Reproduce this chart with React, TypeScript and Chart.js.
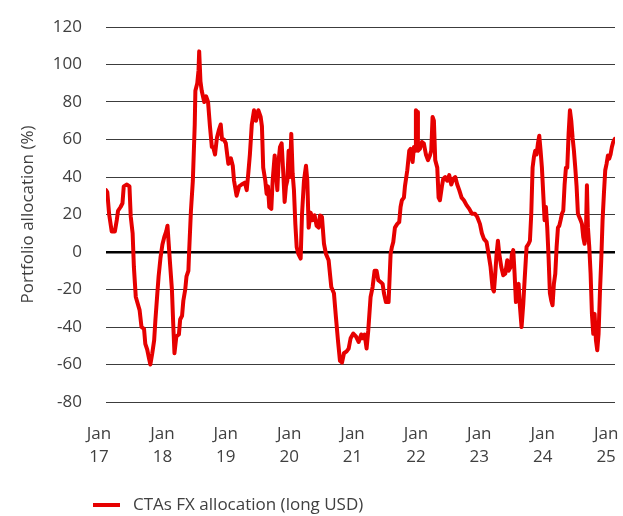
import React, { useEffect, useRef } from 'react';
import { Chart, registerables } from 'chart.js';

Chart.register(...registerables);

// Dates as decimal years
const dates = [
  2017.00, 2017.02, 2017.05, 2017.09, 2017.14, 2017.17, 2017.19, 2017.23, 2017.26, 2017.28,
  2017.33, 2017.37, 2017.39, 2017.42, 2017.44, 2017.47, 2017.53, 2017.56, 2017.60, 2017.62,
  2017.65, 2017.68, 2017.70, 2017.73, 2017.76, 2017.78, 2017.81, 2017.83, 2017.86, 2017.89,
  2017.92, 2017.95, 2017.97, 2017.99, 2018.01, 2018.04, 2018.06, 2018.08, 2018.11, 2018.15,
  2018.17, 2018.20, 2018.22, 2018.25, 2018.27, 2018.30, 2018.31, 2018.34, 2018.37, 2018.40,
  2018.41, 2018.44, 2018.46, 2018.47, 2018.49, 2018.51, 2018.55, 2018.58, 2018.61, 2018.64,
  2018.67, 2018.69, 2018.72, 2018.75, 2018.78, 2018.81, 2018.83, 2018.86, 2018.89, 2018.93,
  2018.97, 2019.00, 2019.02, 2019.06, 2019.10, 2019.14, 2019.19, 2019.22, 2019.245, 2019.27,
  2019.30, 2019.335, 2019.366, 2019.403, 2019.44, 2019.46, 2019.48, 2019.513, 2019.534, 2019.555,
  2019.576, 2019.608, 2019.629, 2019.661, 2019.682, 2019.703, 2019.724, 2019.745, 2019.771, 2019.797,
  2019.818, 2019.839, 2019.86, 2019.881, 2019.902, 2019.923, 2019.944, 2019.965, 2019.987, 2020.008,
  2020.034, 2020.071, 2020.092, 2020.123, 2020.155, 2020.176, 2020.197, 2020.228, 2020.26, 2020.291,
  2020.323, 2020.355, 2020.376, 2020.407, 2020.439, 2020.47, 2020.512, 2020.554, 2020.596, 2020.628,
  2020.659, 2020.691, 2020.723, 2020.754, 2020.796, 2020.828, 2020.859, 2020.901, 2020.943, 2020.985,
  2021.027, 2021.048, 2021.08, 2021.111, 2021.137, 2021.174, 2021.206, 2021.237, 2021.269, 2021.295,
  2021.332, 2021.364, 2021.385, 2021.416, 2021.458, 2021.49, 2021.511, 2021.532, 2021.558, 2021.595,
  2021.626, 2021.647, 2021.668, 2021.70, 2021.716, 2021.753, 2021.784, 2021.805, 2021.837, 2021.858,
  2021.879, 2021.889, 2021.91, 2021.921, 2021.952, 2021.984, 2022.015, 2022.047, 2022.079, 2022.11,
  2022.131, 2022.152, 2022.173, 2022.194, 2022.226, 2022.247, 2022.268, 2022.299, 2022.32, 2022.352,
  2022.383, 2022.415, 2022.447, 2022.478, 2022.51, 2022.541, 2022.573, 2022.61, 2022.646, 2022.688,
  2022.731, 2022.773, 2022.82, 2022.857, 2022.899, 2022.93, 2022.962, 2023.004, 2023.035, 2023.067,
  2023.099, 2023.12, 2023.141, 2023.162, 2023.183, 2023.204, 2023.236, 2023.267, 2023.299, 2023.33,
  2023.351, 2023.383, 2023.404, 2023.425, 2023.446, 2023.467, 2023.488, 2023.509, 2023.53, 2023.556,
  2023.583, 2023.604, 2023.635, 2023.667, 2023.688, 2023.709, 2023.73, 2023.751, 2023.772, 2023.793,
  2023.814, 2023.835, 2023.856, 2023.877, 2023.898, 2023.919, 2023.94, 2023.961, 2023.982, 2024.003,
  2024.024, 2024.045, 2024.066, 2024.088, 2024.109, 2024.13, 2024.151, 2024.172, 2024.193, 2024.214,
  2024.235, 2024.256, 2024.277, 2024.298, 2024.319, 2024.34, 2024.361, 2024.382, 2024.403, 2024.424,
  2024.445, 2024.466, 2024.487, 2024.508, 2024.529, 2024.55, 2024.571, 2024.587, 2024.603, 2024.624,
  2024.645, 2024.666, 2024.687, 2024.708, 2024.729, 2024.75, 2024.771, 2024.792, 2024.813, 2024.834,
  2024.855, 2024.876, 2024.897, 2024.918, 2024.939, 2024.96, 2024.981, 2025.002, 2025.029,
];

// CTAs FX allocation (long USD), % of portfolio
const allocation = [
  33, 32, 20, 11, 11, 17, 22, 24, 26, 35,
  36, 35, 19, 10, -8, -24, -31, -40, -41, -49,
  -52, -57, -60, -54, -47, -36, -22, -13, -3, 4,
  8, 11, 14, 4, -6, -20, -38, -54, -45, -44,
  -36, -34, -26, -20, -13, -10, -1, 22, 38, 68,
  86, 90, 97, 107, 91, 86, 80, 83, 80, 67,
  56, 56, 52, 61, 65, 68, 60, 60, 58, 47,
  50, 46, 38, 30, 35, 36, 37, 33, 42, 52,
  68, 75.6, 70, 75.6, 72, 67, 45, 38, 31, 35,
  24, 23, 38, 51.5, 42, 33, 49, 56, 58, 42,
  26.7, 35, 38, 54, 40, 63, 42, 33, 15, 2.7,
  -1, -3.5, 20, 38, 46, 38, 13, 21, 17, 19.5,
  14, 13, 19.5, 18.7, 4.4, -1, -4.4, -18.7, -22, -35,
  -47, -58, -59, -54, -53, -51.5, -46, -43.5, -45, -48,
  -44, -46, -44, -51.5, -42, -24, -18.7, -10, -10, -15,
  -16, -17, -22, -26.7, -26.7, -1, 2.7, 5.3, 13, 15,
  16, 24, 27.6, 29, 35, 43.6, 54, 55, 48, 56,
  54, 75.6, 74.7, 54, 55, 58.7, 57.8, 52, 49, 51.5,
  54, 72, 70, 49, 45, 29, 27.6, 35, 39, 40,
  38, 41, 36, 39, 40, 36, 33, 29, 27.6, 25,
  23, 20.4, 20.4, 18.7, 15, 10, 7, 5.3, -1, -8,
  -19.5, -21, -11.6, -1, 6, -1, -8, -12.4, -11.6, -4.4,
  -10, -8, -1, 1, -11.6, -26.7, -17.8, -17, -29, -40,
  -27.6, -15, 2.7, 4.4, 6, 20.4, 45, 50.7, 54, 52,
  57.8, 62, 54, 45, 31, 17, 24, 13, -2.7, -22,
  -25.8, -28.4, -17, -11.6, 2.7, 13, 14, 17, 20.4, 22,
  36, 45, 45, 63, 75.6, 70, 61, 54, 45, 35,
  20.4, 18.7, 17, 15, 8, 4.4, 9.8, 35.6, 13, 2.7,
  -11.6, -33, -43.6, -33, -47, -52.4, -43.6, -22, -4.4, 17,
  31, 43.6, 47, 51.5, 49.8, 52, 56, 58.7, 60.4,
];

const yearTicks = [2017, 2018, 2019, 2020, 2021, 2022, 2023, 2024, 2025];
const yearLabels = ['17', '18', '19', '20', '21', '22', '23', '24', '25'];
const monthLabel = 'Jan';
const seriesLabel = 'CTAs FX allocation (long USD)';
const yAxisTitle = 'Portfolio allocation (%)';

const RED = '#e60000';
const TEXT = '#404040';
const GRID = '#3c3c3c';
const FONT = '"Open Sans", "Noto Sans", sans-serif';

export default function App() {
  const ref = useRef<HTMLCanvasElement>(null);

  useEffect(() => {
    if (!ref.current) return;
    const legendPlugin = {
      id: 'customLegend',
      afterDraw(chart: any) {
        const ctx = chart.ctx;
        ctx.save();
        ctx.strokeStyle = RED;
        ctx.lineWidth = 4;
        ctx.beginPath();
        ctx.moveTo(93, 505);
        ctx.lineTo(120, 505);
        ctx.stroke();
        ctx.fillStyle = TEXT;
        ctx.font = `17px ${FONT}`;
        ctx.textBaseline = 'middle';
        ctx.textAlign = 'left';
        ctx.fillText(seriesLabel, 133, 505);
        ctx.restore();
      },
    };

    const chart = new Chart(ref.current, {
      type: 'line',
      data: {
        datasets: [
          {
            label: seriesLabel,
            data: dates.map((d, i) => ({ x: d, y: allocation[i] })),
            borderColor: RED,
            backgroundColor: RED,
            borderWidth: 4,
            pointRadius: 0,
            tension: 0,
            borderJoinStyle: 'round',
            borderCapStyle: 'round',
          },
        ],
      },
      options: {
        responsive: false,
        animation: false,
        devicePixelRatio: 1,
        layout: { padding: { top: 27, right: 8, left: 0, bottom: 0 } },
        plugins: { legend: { display: false }, tooltip: { enabled: false } },
        scales: {
          x: {
            type: 'linear',
            min: 2017,
            max: 2025.03,
            afterBuildTicks: (s: any) => {
              s.ticks = yearTicks.map((v) => ({ value: v }));
            },
            afterFit: (s: any) => {
              s.height = 114;
              s.paddingLeft = 0;
              s.paddingRight = 0;
            },
            grid: { display: false, drawTicks: false },
            border: { display: false },
            ticks: {
              autoSkip: false,
              maxRotation: 0,
              minRotation: 0,
              labelOffset: -7,
              padding: 21,
              color: TEXT,
              font: { family: FONT, size: 17, lineHeight: 1.35 },
              callback: (v: any) => {
                const i = yearTicks.indexOf(Math.round(Number(v)));
                return [monthLabel, yearLabels[i]];
              },
            },
          },
          y: {
            min: -80,
            max: 120,
            afterFit: (s: any) => {
              s.width = 106;
              s.paddingTop = 0;
              s.paddingBottom = 0;
            },
            border: { display: false },
            grid: {
              drawTicks: false,
              color: (c: any) => (c.tick && c.tick.value === 0 ? '#000000' : GRID),
              lineWidth: (c: any) => (c.tick && c.tick.value === 0 ? 2.5 : 1),
            },
            ticks: {
              stepSize: 20,
              padding: 24,
              color: TEXT,
              font: { family: FONT, size: 17 },
            },
            title: {
              display: true,
              text: yAxisTitle,
              color: TEXT,
              padding: { top: 18, bottom: 0 },
              font: { family: FONT, size: 17, lineHeight: 1.2 },
            },
          },
        },
      },
      plugins: [legendPlugin],
    } as any);

    return () => chart.destroy();
  }, []);

  return (
    <div style={{ position: 'fixed', left: 0, top: 0, width: 623, height: 516, background: '#fff' }}>
      <canvas ref={ref} width={623} height={516} style={{ width: 623, height: 516, display: 'block' }} />
    </div>
  );
}
